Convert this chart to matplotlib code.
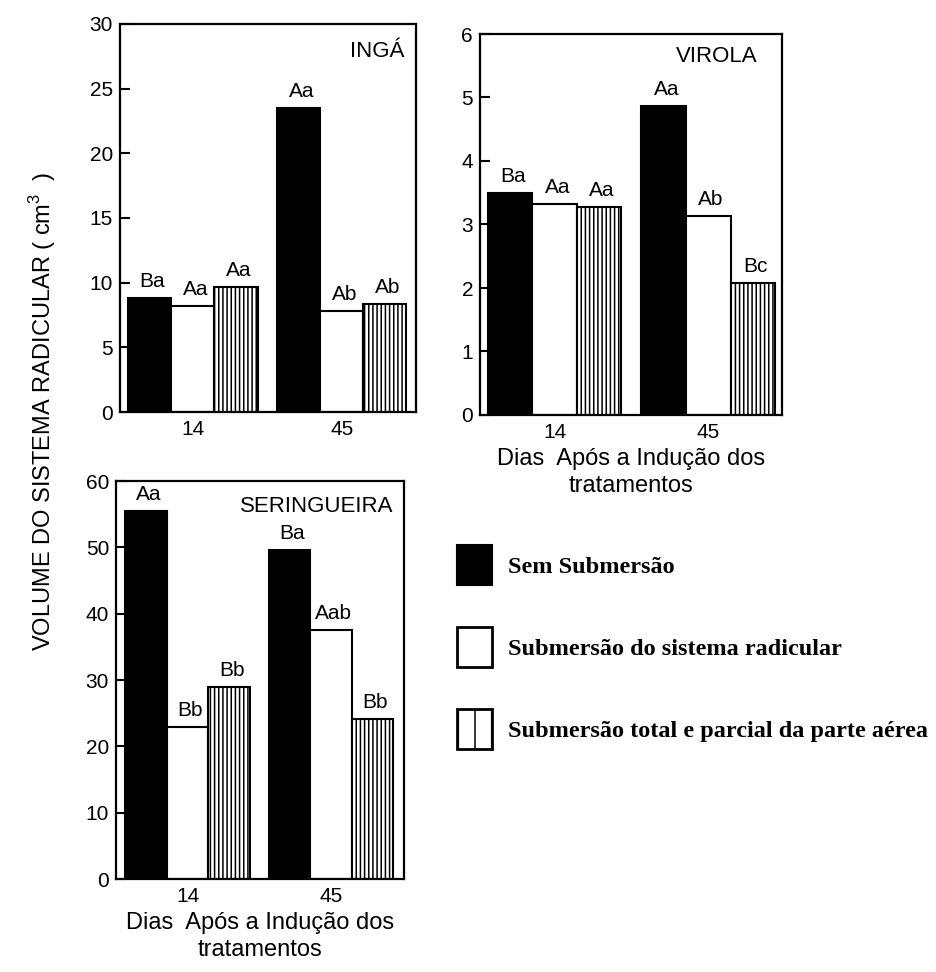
import matplotlib
matplotlib.use('Agg')
import matplotlib.pyplot as plt
from matplotlib.patches import Patch
import numpy as np

plt.rcParams['font.family'] = ['Liberation Sans', 'DejaVu Sans']
plt.rcParams['mathtext.fontset'] = 'custom'
plt.rcParams['mathtext.rm'] = 'Liberation Sans'
plt.rcParams['hatch.linewidth'] = 1.1

dias = ['14', '45']

# volume (cm3) per treatment: sem submersao, submersao raiz, submersao total/parcial
inga_sem = [8.8, 23.5]
inga_raiz = [8.2, 7.8]
inga_total = [9.65, 8.35]
inga_letras = [['Ba', 'Aa'], ['Aa', 'Ab'], ['Aa', 'Ab']]

virola_sem = [3.5, 4.86]
virola_raiz = [3.32, 3.14]
virola_total = [3.27, 2.08]
virola_letras = [['Ba', 'Aa'], ['Aa', 'Ab'], ['Aa', 'Bc']]

ser_sem = [55.5, 49.6]
ser_raiz = [22.9, 37.5]
ser_total = [28.9, 24.1]
ser_letras = [['Aa', 'Ba'], ['Bb', 'Aab'], ['Bb', 'Bb']]

legenda = ['Sem Submersão',
           'Submersão do sistema radicular',
           'Submersão total e parcial da parte aérea']

estilos = [dict(facecolor='black'),
           dict(facecolor='white'),
           dict(facecolor='white', hatch='||||')]


def draw_panel(ax, sem, raiz, total, letras, titulo, tpos, ymax, step, xlim, xlabel=None):
    x = np.arange(len(dias))
    w = 0.29
    for k, vals in enumerate([sem, raiz, total]):
        bars = ax.bar(x + (k - 1) * w, vals, w, edgecolor='black', linewidth=1.5, **estilos[k])
        for b, lab in zip(bars, letras[k]):
            ax.annotate(lab, (b.get_x() + b.get_width() / 2, b.get_height()),
                        xytext=(2, 5), textcoords='offset points',
                        ha='center', va='bottom', fontsize=15)
    ax.set_xlim(*xlim)
    ax.set_ylim(0, ymax)
    ax.set_yticks(np.arange(0, ymax + step / 2, step))
    ax.set_xticks(x)
    ax.set_xticklabels(dias)
    ax.tick_params(axis='y', direction='in', length=7, width=1.5, labelsize=15, pad=5)
    ax.tick_params(axis='x', length=0, labelsize=15, pad=6)
    for s in ax.spines.values():
        s.set_linewidth(1.6)
    ax.text(tpos[0], tpos[1], titulo, transform=ax.transAxes, ha='right', va='center', fontsize=16)
    if xlabel:
        ax.set_xlabel(xlabel, fontsize=17, labelpad=4, linespacing=1.3)


fig = plt.figure(figsize=(9.37, 9.72), dpi=100)

ax1 = fig.add_axes([120 / 937, 1 - 412 / 972, 296 / 937, 388 / 972])
draw_panel(ax1, inga_sem, inga_raiz, inga_total, inga_letras, 'INGÁ', (0.96, 0.93),
           30, 5, (-0.49, 1.5))

ax2 = fig.add_axes([480 / 937, 1 - 415 / 972, 302 / 937, 381 / 972])
draw_panel(ax2, virola_sem, virola_raiz, virola_total, virola_letras, 'VIROLA', (0.92, 0.94),
           6, 1, (-0.485, 1.48), 'Dias  Após a Indução dos\ntratamentos')

ax3 = fig.add_axes([116 / 937, 1 - 879 / 972, 288 / 937, 398 / 972])
draw_panel(ax3, ser_sem, ser_raiz, ser_total, ser_letras, 'SERINGUEIRA', (0.965, 0.935),
           60, 10, (-0.5, 1.51), 'Dias  Após a Indução dos\ntratamentos')

fig.text(43 / 937, 1 - 172 / 972, r'VOLUME DO SISTEMA RADICULAR ( cm$^{3}$  )',
         rotation=90, ha='center', va='top', fontsize=17)

handles = [Patch(facecolor='black', edgecolor='black', linewidth=1.5),
           Patch(facecolor='white', edgecolor='black', linewidth=2),
           Patch(facecolor='white', edgecolor='black', linewidth=2, hatch='|')]
fig.legend(handles, legenda, loc='upper left', bbox_to_anchor=(457 / 937, 1 - 545 / 972),
           frameon=False, prop=dict(family='Liberation Serif', weight='bold', size=17.5),
           borderaxespad=0, borderpad=0,
           handlelength=1.45, handleheight=2.16, labelspacing=1.73, handletextpad=0.65)

fig.savefig('out.png', dpi=100)
